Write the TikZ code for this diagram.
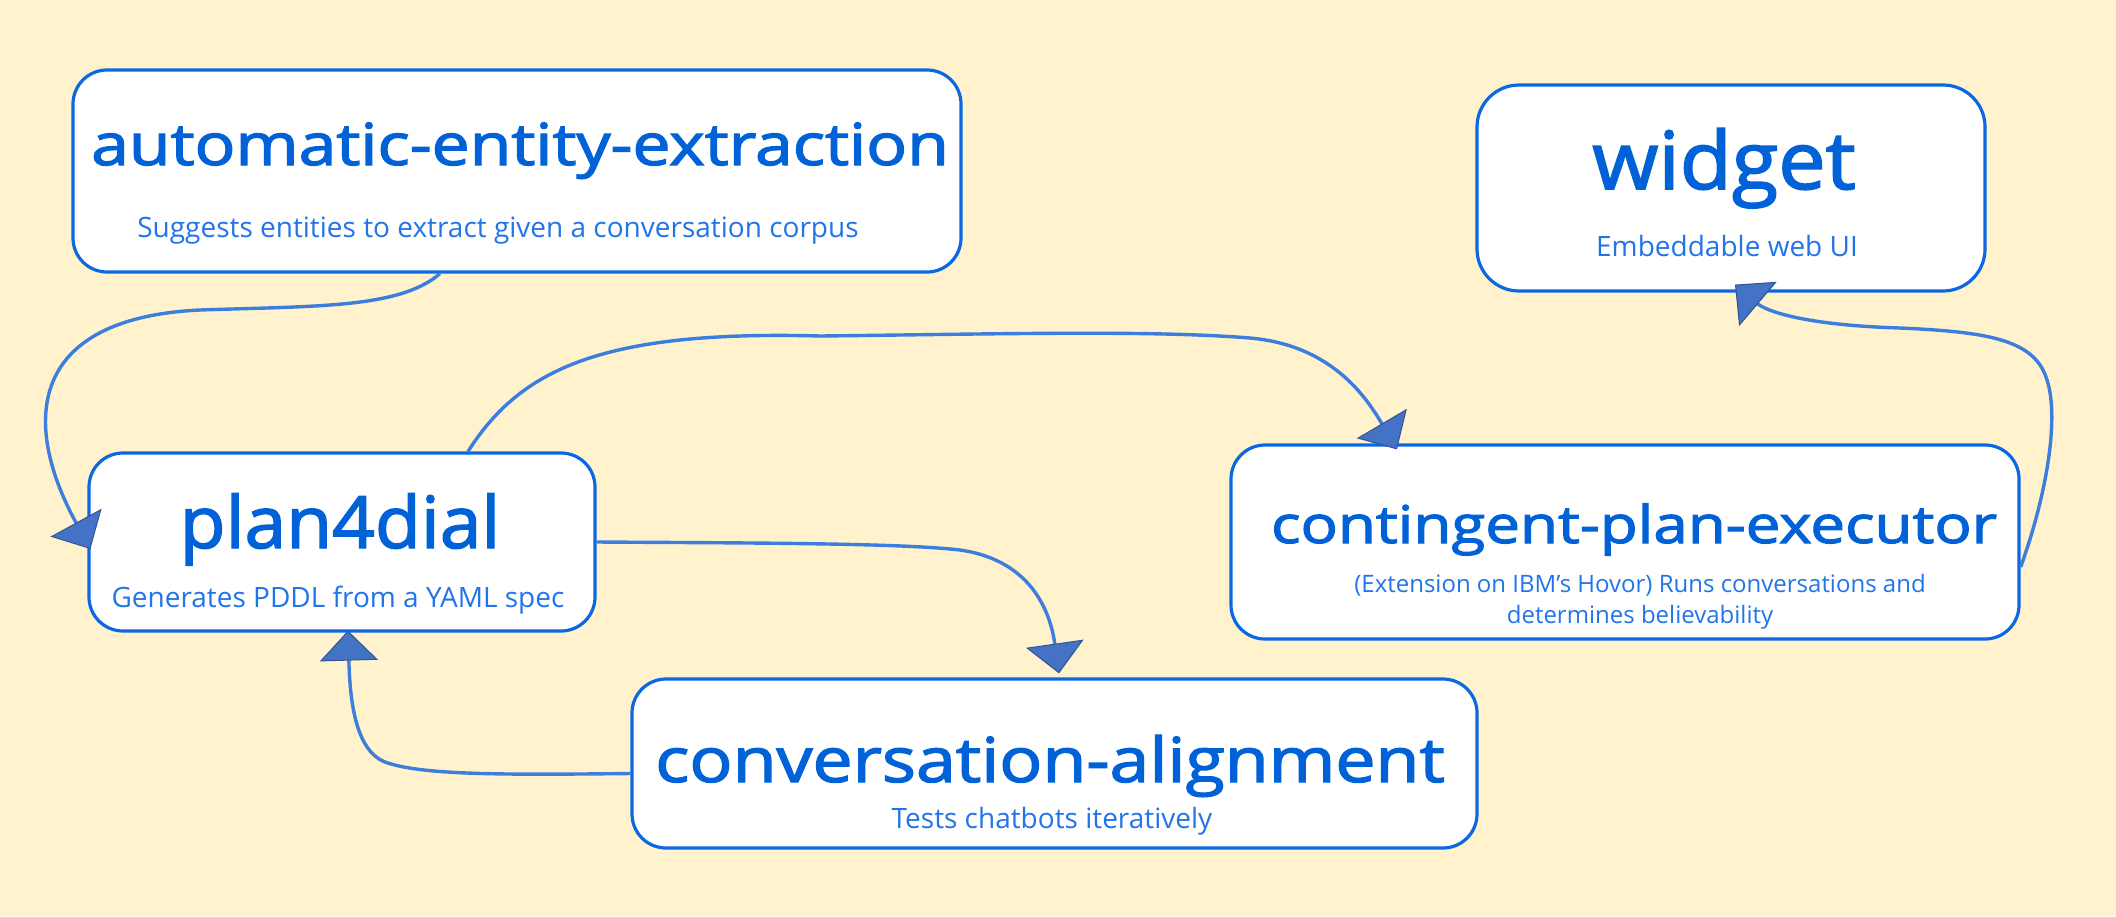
\documentclass[tikz,border=0pt]{standalone}
\usepackage{graphicx}
\usepackage{fontspec}
\newfontfamily\titlefont{Open Sans}[FakeBold=2]
\newfontfamily\subfont{Open Sans}
\usetikzlibrary{arrows.meta}
\definecolor{bg}{HTML}{FFF2CC}
\definecolor{boxblue}{HTML}{0B68E4}
\definecolor{ttlblue}{HTML}{0062D6}
\definecolor{subblue}{HTML}{2274EA}
\definecolor{linecol}{HTML}{3B7EDE}
\definecolor{arrfill}{HTML}{4472C4}
\definecolor{arrdraw}{HTML}{2F5597}
\newcommand{\hstretch}[2]{\scalebox{#1}[1]{#2}}
\begin{document}
\begin{tikzpicture}[x=1pt,y=-1pt,
  box/.style={draw=boxblue, line width=3.2pt, fill=white, rounded corners=34pt, inner sep=0pt, rectangle},
  ttl/.style={text=ttlblue, font=\titlefont\fontsize{#1}{#1}\selectfont, anchor=base, inner sep=0pt},
  sub/.style={text=subblue, font=\subfont\fontsize{#1}{#1}\selectfont, anchor=base, inner sep=0pt},
  conn/.style={draw=linecol, line width=3.4pt,
    -{Triangle[length=30pt,width=58pt,fill=arrfill,color=arrdraw,line width=1pt]}}]
\fill[bg] (0,0) rectangle (2116,916);
\useasboundingbox (0,0) rectangle (2116,916);

% boxes
\node[box, minimum width=888pt, minimum height=202pt] (aee) at (517,171) {};
\node[box, minimum width=508pt, minimum height=206pt, rounded corners=42pt] (widget) at (1731,188) {};
\node[box, minimum width=506pt, minimum height=178pt] (p4d) at (342,542) {};
\node[box, minimum width=788pt, minimum height=194pt] (cpe) at (1625,542) {};
\node[box, minimum width=845pt, minimum height=169pt] (ca) at (1054.5,763.5) {};

% texts
\node[ttl=58] (aeeT) at (520,165) {\hstretch{1.17}{automatic-entity-extraction}};
\node[sub=28] (aeeS) at (498,237) {Suggests entities to extract given a conversation corpus};
\node[ttl=80] (widgetT) at (1724,189) {\hstretch{1.06}{widget}};
\node[sub=28] (widgetS) at (1727,256) {Embeddable web UI};
\node[ttl=72] (p4dT) at (340,548) {\hstretch{1.04}{plan4dial}};
\node[sub=28] (p4dS) at (338,607) {Generates PDDL from a YAML spec};
\node[ttl=52] (cpeT) at (1634,543) {\hstretch{1.19}{contingent-plan-executor}};
\node[sub=24] (cpeS1) at (1640,592) {(Extension on IBM’s Hovor) Runs conversations and};
\node[sub=24] (cpeS2) at (1640,623) {determines believability};
\node[ttl=62] (caT) at (1050,782) {\hstretch{1.155}{conversation-alignment}};
\node[sub=28] (caS) at (1052,828) {Tests chatbots iteratively};

% connectors
\draw[conn] ([xshift=-77pt]aee.south) .. controls (400,308) and (320,306) .. (200,310)
  .. controls (30,318) and (20,420) .. ([shift={(3,7)}]p4d.west);
\draw[conn] ([xshift=126pt]p4d.north) .. controls (520,370) and (600,330) .. (820,336)
  .. controls (1000,334) and (1150,330) .. (1250,338)
  .. controls (1330,345) and (1365,395) .. ([shift={(-228,6)}]cpe.north);
\draw[conn] (p4d.east) .. controls (750,543) and (900,543) .. (960,550)
  .. controls (1030,560) and (1050,610) .. ([shift={(4.5,-4)}]ca.north);
\draw[conn] ([shift={(0,10)}]ca.west) .. controls (500,775) and (420,775) .. (385,762)
  .. controls (355,750) and (350,700) .. ([shift={(6,-2)}]p4d.south);
\draw[conn] ([shift={(0,25)}]cpe.east) .. controls (2045,500) and (2060,420) .. (2047,380)
  .. controls (2035,340) and (1990,332) .. (1900,328)
  .. controls (1800,325) and (1765,310) .. ([shift={(4,-8)}]widget.south);
\end{tikzpicture}
\end{document}
